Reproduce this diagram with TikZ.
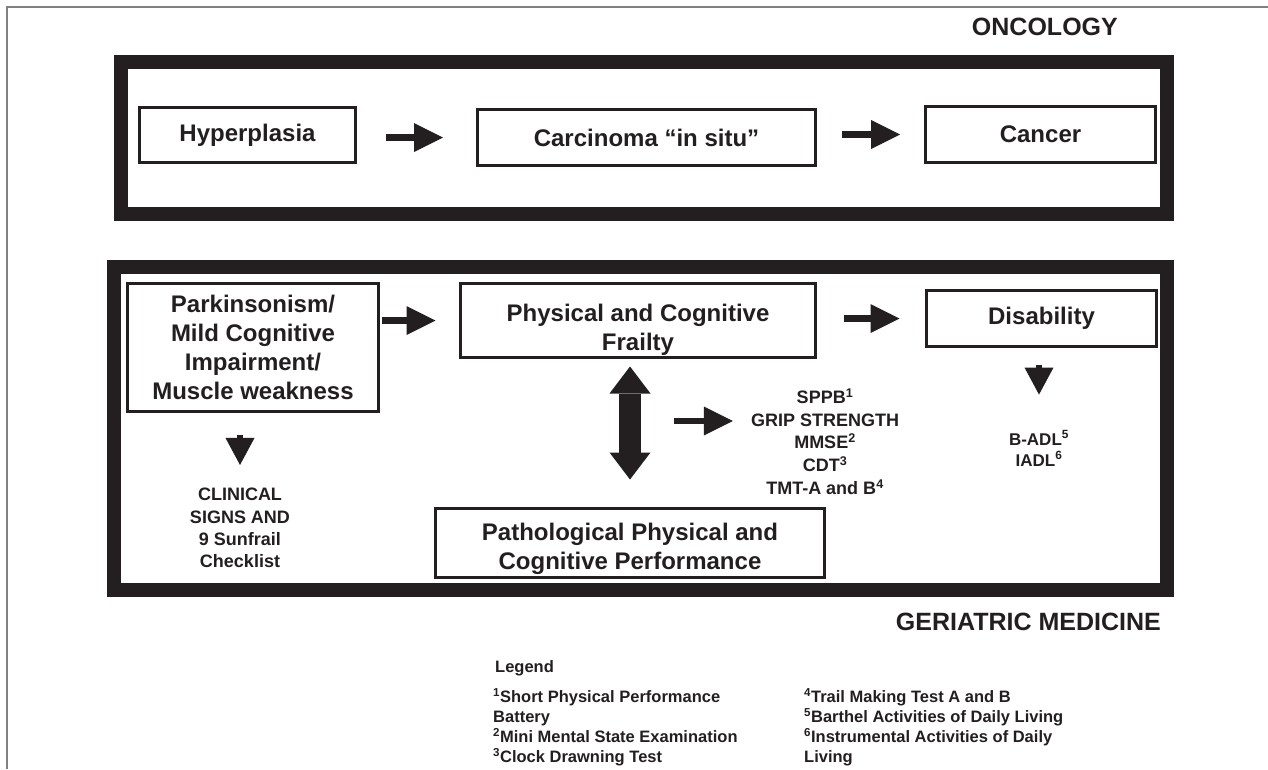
\documentclass[tikz,border=0pt]{standalone}
\usepackage{fontspec}
\setmainfont{Liberation Sans}
\usetikzlibrary{arrows.meta}
\definecolor{ink}{HTML}{231F20}
\begin{document}
\begin{tikzpicture}[x=1pt,y=-1pt,
    frame/.style={draw=ink,line width=14pt},
    box/.style={draw=ink,line width=3pt,align=center,inner sep=0pt,text=ink,font=\fontsize{24}{29}\selectfont\bfseries},
    txt/.style={align=center,inner sep=0pt,text=ink},
    fat/.style={draw=ink,line width=6.5pt,-{Triangle[length=29pt,width=29pt,line width=0pt]}},
    drop/.style={draw=ink,line width=6pt,-{Triangle[length=27pt,width=29pt,line width=0pt]}},
    dbl/.style={draw=ink,line width=22pt,{Triangle[length=27pt,width=41pt,line width=0pt]}-{Triangle[length=27pt,width=41pt,line width=0pt]}}]
    \fill[white] (0,0) rectangle (1268,769);
    \useasboundingbox (0,0) rectangle (1268,769);
    \draw[gray,line width=1.5pt] (7,769) -- (7,7) -- (1268,7);
    \draw[frame] (121,62) rectangle (1167,214);
    \draw[frame] (114,267) rectangle (1167,590);
    \node[txt,anchor=east,font=\fontsize{25}{30}\selectfont\bfseries] (onc) at (1118,27) {ONCOLOGY};
    \node[txt,anchor=east,font=\fontsize{25}{30}\selectfont\bfseries] (ger) at (1161,622) {GERIATRIC MEDICINE};
    \node[box,minimum width=216pt,minimum height=55pt] (hyper) at (247.5,135) {Hyperplasia};
    \node[box,minimum width=338pt,minimum height=56pt] (carc) at (646.5,137.5) {Carcinoma “in situ”};
    \node[box,minimum width=230pt,minimum height=56pt] (cancer) at (1040.5,134.5) {Cancer};
    \node[box,minimum width=251pt,minimum height=128pt] (park) at (253,347.5) {Parkinsonism/\\Mild Cognitive\\Impairment/\\Muscle weakness};
    \node[box,minimum width=355pt,minimum height=74pt] (frail) at (638,320.5) {\rule{0pt}{35pt}Physical and Cognitive\\Frailty};
    \node[box,minimum width=230pt,minimum height=56pt] (disab) at (1041.5,318.5) {Disability};
    \node[box,minimum width=389pt,minimum height=69pt] (patho) at (630,543) {\rule{0pt}{30pt}Pathological Physical and\\Cognitive Performance};
    \node[txt,font=\fontsize{18}{22.7}\selectfont\bfseries] (tests) at (825,441.5) {SPPB\textsuperscript{1}\\GRIP STRENGTH\\MMSE\textsuperscript{2}\\CDT\textsuperscript{3}\\TMT-A and B\textsuperscript{4}};
    \node[txt,font=\fontsize{18}{22.3}\selectfont\bfseries] (clin) at (240,528) {CLINICAL\\SIGNS AND\\9 Sunfrail\\Checklist};
    \node[txt,font=\fontsize{17}{21}\selectfont\bfseries] (badl) at (1039,448.5) {B-ADL\textsuperscript{5}\\IADL\textsuperscript{6}};
    \coordinate (split) at (674,421);
    \draw[fat,shorten <=29pt,shorten >=33pt] (hyper.east |- carc.west) -- (carc.west);
    \draw[fat,shorten <=25pt,shorten >=24pt] (carc.east |- cancer.west) -- (cancer.west);
    \draw[fat,shorten <=1.5pt,shorten >=23.5pt] (park.east |- frail.west) -- (frail.west);
    \draw[fat,shorten <=26.5pt,shorten >=25.5pt] (frail.east |- disab.west) -- (disab.west);
    \draw[dbl,shorten <=7.5pt,shorten >=27.5pt] (frail.south -| patho.north) -- (patho.north);
    \draw[fat,shorten >=18pt] (split) -- (split -| tests.west);
    \draw[drop,shorten <=22pt,shorten >=23pt] (park.south -| clin.north) -- (clin.north);
    \draw[drop,shorten <=17pt,shorten >=36pt] (disab.south -| badl.north) -- (badl.north);
    \node[txt,anchor=west,font=\fontsize{16.5}{20}\selectfont\bfseries] (leg) at (495,668) {Legend};
    \node[txt,anchor=north west,align=left,font=\fontsize{16.5}{20}\selectfont\bfseries] (legl) at (493,688) {\textsuperscript{1}Short Physical Performance\\Battery\\\textsuperscript{2}Mini Mental State Examination\\\textsuperscript{3}Clock Drawning Test};
    \node[txt,anchor=north west,align=left,font=\fontsize{16.5}{20}\selectfont\bfseries] (legr) at (804,688) {\textsuperscript{4}Trail Making Test A and B\\\textsuperscript{5}Barthel Activities of Daily Living\\\textsuperscript{6}Instrumental Activities of Daily\\Living};
\end{tikzpicture}
\end{document}
